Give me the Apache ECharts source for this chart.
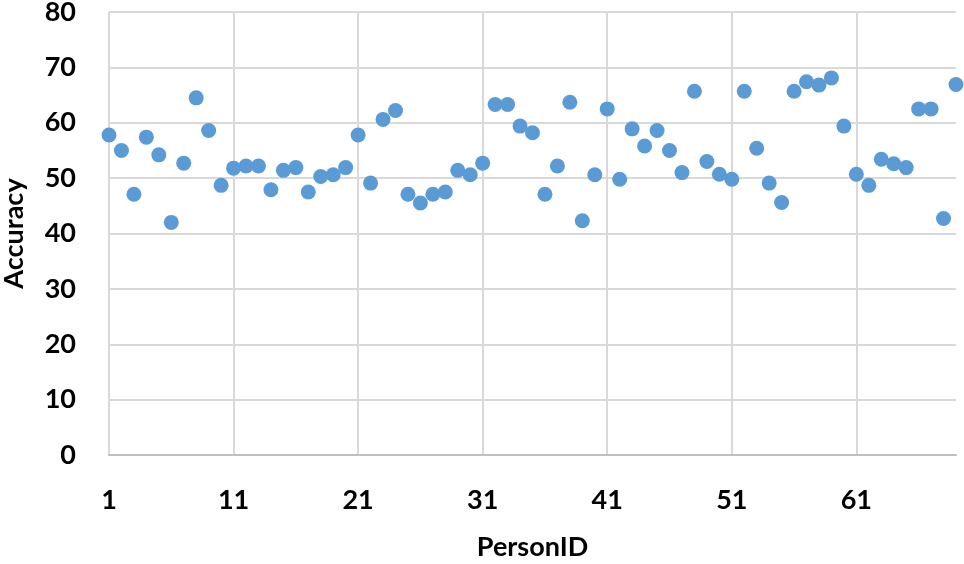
<!DOCTYPE html>
<html>
<head>
<meta charset="utf-8">
<script src="https://cdn.jsdelivr.net/npm/echarts@6/dist/echarts.min.js"></script>
<style>html,body{margin:0;padding:0;background:#fff}#c{width:964px;height:564px}</style>
</head>
<body>
<div id="c"></div>
<script>
const personIds = Array.from({length: 69}, (_, i) => String(i + 1));
const accuracy = [
  57.8, 55.0, 47.1, 57.4, 54.2, 42.0, 52.7, 64.5, 58.6, 48.7,
  51.8, 52.2, 52.2, 47.9, 51.4, 51.9, 47.5, 50.3, 50.6, 51.9,
  57.8, 49.1, 60.6, 62.2, 47.1, 45.5, 47.1, 47.5, 51.4, 50.6,
  52.7, 63.3, 63.3, 59.4, 58.2, 47.1, 52.2, 63.7, 42.3, 50.6,
  62.5, 49.8, 58.9, 55.8, 58.6, 55.0, 51.0, 65.7, 53.0, 50.7,
  49.8, 65.7, 55.4, 49.1, 45.6, 65.7, 67.4, 66.8, 68.1, 59.4,
  50.7, 48.7, 53.4, 52.6, 51.9, 62.5, 62.5, 42.7, 66.9
];
const yTicks = {min: 0, max: 80, interval: 10};

const chart = echarts.init(document.getElementById('c'));
const font = 'Lato, "Open Sans", sans-serif';
chart.setOption({
  animation: false,
  grid: {left: 109, right: 8, top: 12, bottom: 109, containLabel: false, outerBoundsMode: 'none'},
  xAxis: {
    type: 'category',
    data: personIds,
    boundaryGap: false,
    name: 'PersonID',
    nameLocation: 'middle',
    nameGap: 79,
    nameTextStyle: {fontFamily: font, fontWeight: 'bold', fontSize: 27, color: '#000'},
    axisLine: {lineStyle: {color: '#bfbfbf', width: 2}},
    axisTick: {show: false},
    axisLabel: {interval: 9, margin: 32, fontFamily: font, fontWeight: 'bold', fontSize: 27, color: '#000'},
    splitLine: {show: true, interval: 9, lineStyle: {color: '#d9d9d9', width: 2}}
  },
  yAxis: {
    type: 'value',
    min: yTicks.min, max: yTicks.max, interval: yTicks.interval,
    name: 'Accuracy',
    nameLocation: 'middle',
    nameGap: 81,
    nameTextStyle: {fontFamily: font, fontWeight: 'bold', fontSize: 27, color: '#000'},
    axisLine: {show: false},
    axisTick: {show: false},
    axisLabel: {margin: 33, fontFamily: font, fontWeight: 'bold', fontSize: 27, color: '#000'},
    splitLine: {show: true, lineStyle: {color: '#d9d9d9', width: 2}}
  },
  series: [{
    type: 'scatter',
    data: accuracy,
    symbol: 'circle',
    symbolSize: 15,
    itemStyle: {color: '#5b9bd5', opacity: 1}
  }]
});
</script>
</body>
</html>
